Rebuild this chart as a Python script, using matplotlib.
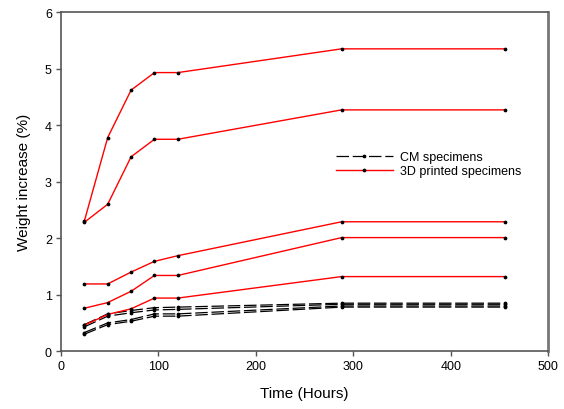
import matplotlib
matplotlib.use('Agg')
from matplotlib import pyplot as plt

plt.rcParams['font.family'] = ['Liberation Sans', 'DejaVu Sans']

# immersion time (hours)
hours = [24, 48, 72, 96, 120, 288, 456]

# weight increase (%) of 3D printed specimens
printed = [
    [2.30, 3.78, 4.62, 4.93, 4.93, 5.35, 5.35],
    [2.28, 2.60, 3.44, 3.75, 3.75, 4.27, 4.27],
    [1.19, 1.19, 1.40, 1.59, 1.69, 2.29, 2.29],
    [0.76, 0.86, 1.06, 1.34, 1.34, 2.01, 2.01],
    [0.46, 0.65, 0.75, 0.94, 0.94, 1.32, 1.32],
]

# weight increase (%) of CM specimens
cm = [
    [0.47, 0.66, 0.72, 0.77, 0.78, 0.85, 0.85],
    [0.43, 0.62, 0.68, 0.73, 0.74, 0.83, 0.83],
    [0.33, 0.50, 0.56, 0.66, 0.66, 0.80, 0.80],
    [0.30, 0.47, 0.53, 0.62, 0.62, 0.78, 0.78],
]

fig = plt.figure(figsize=(5.64, 4.10), dpi=100)
ax = fig.add_axes([0.108, 0.141, 0.864, 0.827])

for i, s in enumerate(cm):
    ax.plot(hours, s, color='black', lw=0.9, dashes=(10, 3),
            marker='o', ms=1.7, mfc='black', mec='black',
            label='CM specimens' if i == 0 else None)
for i, s in enumerate(printed):
    ax.plot(hours, s, color='#ff0000', lw=1.0,
            marker='o', ms=1.7, mfc='black', mec='black',
            label='3D printed specimens' if i == 0 else None)

ax.set_xlim(0, 500)
ax.set_ylim(0, 6)
ax.set_xticks([0, 100, 200, 300, 400, 500])
ax.set_yticks([0, 1, 2, 3, 4, 5, 6])
ax.tick_params(direction='out', length=3.5, width=1, color='#555555',
               labelsize=9, pad=3)
ax.set_xlabel('Time (Hours)', fontsize=11, labelpad=10)
ax.set_ylabel('Weight increase (%)', fontsize=11, labelpad=10)

for side in ['left', 'bottom', 'top']:
    ax.spines[side].set_color('#555555')
    ax.spines[side].set_linewidth(1.2)
ax.spines['right'].set_color('#777777')
ax.spines['right'].set_linewidth(2)

ax.legend(loc='upper left', bbox_to_anchor=(0.555, 0.605), frameon=False,
          fontsize=9, handlelength=4.5, handletextpad=0.6,
          labelspacing=0.15, borderaxespad=0)

fig.savefig('out.png', dpi=100)
